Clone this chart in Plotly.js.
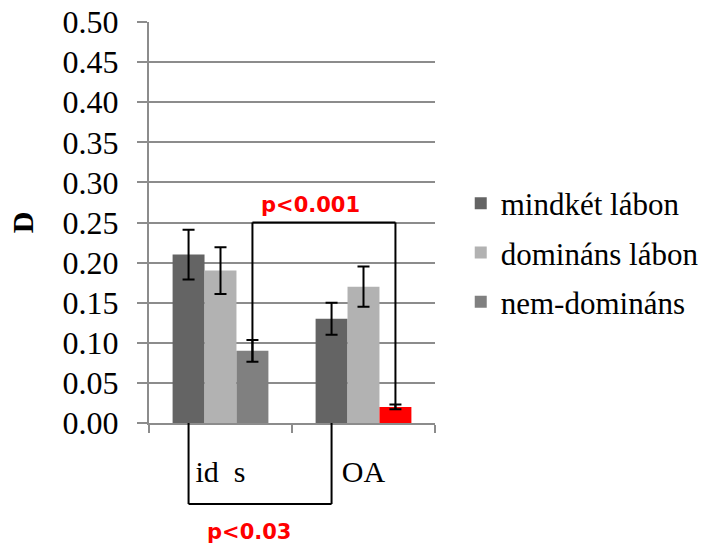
<!DOCTYPE html>
<html>
<head>
<meta charset="utf-8">
<script src="https://cdn.plot.ly/plotly-3.0.1.min.js"></script>
<style>html,body{margin:0;padding:0;background:#fff;}</style>
</head>
<body>
<div id="chart" style="width:722px;height:545px;"></div>
<script>
// ---- data ----
const categories = ['id\u00a0\u00a0s', 'OA'];
const seriesNames = ['mindkét lábon', 'domináns lábon', 'nem-domináns'];
const mindket = [0.21, 0.13];
const mindketErr = [0.031, 0.020];
const dominans = [0.19, 0.17];
const dominansErr = [0.029, 0.025];
const nemDominans = [0.09, 0.02];
const nemDominansErr = [0.0135, 0.003];
const yTicks = [0, 0.05, 0.10, 0.15, 0.20, 0.25, 0.30, 0.35, 0.40, 0.45, 0.50];
const pTop = 'p<0.001';
const pBottom = 'p<0.03';
const bracketLevel = 0.25;

// ---- styles ----
const serif = '"Liberation Serif", "Times New Roman", Times, serif';
const colors = ['#646464', '#b2b2b2', '#808080'];
const highlight = '#ff0000';
const grid = '#8c8c8c';
const bargap = 0.33;
const off = (1 - bargap) / 3; // offset of side bars within category

function errBar(arr) {
  return {type: 'data', array: arr, visible: true, color: '#000', thickness: 2, width: 6};
}

const traces = [
  {type: 'bar', name: seriesNames[0], x: categories, y: mindket, marker: {color: colors[0]},
   error_y: errBar(mindketErr), legendgroup: 'a'},
  {type: 'bar', name: seriesNames[1], x: categories, y: dominans, marker: {color: colors[1]},
   error_y: errBar(dominansErr), legendgroup: 'b'},
  {type: 'bar', name: seriesNames[2], x: categories, y: nemDominans,
   marker: {color: [colors[2], highlight]},
   error_y: errBar(nemDominansErr), legendgroup: 'c'}
];

const line = {color: '#000', width: 2};
const leftLow = nemDominans[0] - nemDominansErr[0];
const rightLow = nemDominans[1] - nemDominansErr[1];
const shapes = [
  {type: 'line', xref: 'x', yref: 'y', x0: off, x1: off, y0: leftLow, y1: bracketLevel, line: line},
  {type: 'line', xref: 'x', yref: 'y', x0: off, x1: 1 + off, y0: bracketLevel, y1: bracketLevel, line: line},
  {type: 'line', xref: 'x', yref: 'y', x0: 1 + off, x1: 1 + off, y0: bracketLevel, y1: rightLow, line: line},
  {type: 'line', xref: 'x', yref: 'paper', x0: -off, x1: -off, y0: 0, y1: -0.202, line: line},
  {type: 'line', xref: 'x', yref: 'paper', x0: -off, x1: 1 - off, y0: -0.202, y1: -0.202, line: line},
  {type: 'line', xref: 'x', yref: 'paper', x0: 1 - off, x1: 1 - off, y0: -0.202, y1: 0, line: line}
];

const pFont = {family: '"DejaVu Sans", Verdana, sans-serif', size: 21, color: highlight, weight: 'bold'};
const annotations = [
  {text: '<b>' + pTop.replace('<', '&lt;') + '</b>', xref: 'paper', yref: 'paper', x: 0.563, y: 0.5436,
   showarrow: false, font: pFont, xanchor: 'center', yanchor: 'middle'},
  {text: '<b>' + pBottom.replace('<', '&lt;') + '</b>', xref: 'paper', yref: 'paper', x: 0.35, y: -0.272,
   showarrow: false, font: pFont, xanchor: 'center', yanchor: 'middle'}
];

const layout = {
  width: 722, height: 545,
  margin: {l: 149, r: 287, t: 22, b: 122, pad: 0},
  paper_bgcolor: '#fff', plot_bgcolor: '#fff',
  font: {family: serif, color: '#000'},
  barmode: 'group', bargap: bargap, bargroupgap: 0,
  showlegend: true,
  legend: {x: 1.09, y: 0.425, xanchor: 'left', yanchor: 'middle', font: {size: 31, family: serif},
           tracegroupgap: 6, bgcolor: 'rgba(0,0,0,0)'},
  xaxis: {type: 'category', showgrid: false, showline: true, linecolor: grid, linewidth: 2,
          ticks: 'outside', tickson: 'boundaries', ticklen: 8, tickwidth: 2, tickcolor: grid,
          tickfont: {size: 30, family: serif}, ticklabelstandoff: 21, zeroline: false},
  yaxis: {range: [0, 0.5], tickvals: yTicks, tickformat: '.2f', showgrid: true, gridcolor: grid, gridwidth: 2,
          showline: true, linecolor: grid, linewidth: 2, ticks: 'outside', ticklen: 10, tickwidth: 2,
          tickcolor: grid, tickfont: {size: 32, family: serif}, ticklabelstandoff: 12, zeroline: false,
          title: {text: '<b>D</b>', font: {size: 30, family: serif}, standoff: 20}},
  shapes: shapes,
  annotations: annotations
};

Plotly.newPlot('chart', traces, layout, {displayModeBar: false, staticPlot: true});
</script>
</body>
</html>
